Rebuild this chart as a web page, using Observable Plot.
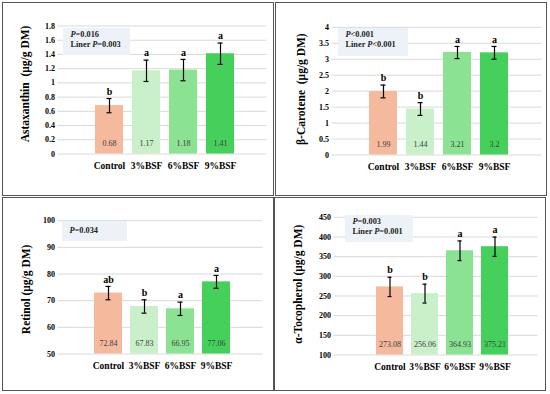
<!DOCTYPE html>
<html>
<head>
<meta charset="utf-8">
<script src="https://cdn.jsdelivr.net/npm/d3@7"></script>
<script src="https://cdn.jsdelivr.net/npm/@observablehq/plot@0.6"></script>
<style>
  html, body { margin: 0; padding: 0; background: #fff; }
  body { width: 550px; height: 394px; position: relative; overflow: hidden; font-family: "Liberation Serif", "Times New Roman", serif; }
  .panel { position: absolute; box-sizing: border-box; width: 272px; height: 194px; border: 1.5px solid #555; background: #fff; }
  .panel svg { position: absolute; left: 0; top: 0; }
  .pbox { position: absolute; background: #edf2f8; box-sizing: border-box; padding-left: 8px; font-size: 8.3px; font-weight: bold; color: #222; line-height: 10px; }
</style>
</head>
<body>
<script>
// ---- data ----
const categories = ["Control", "3%BSF", "6%BSF", "9%BSF"];

const astaxanthin = [0.68, 1.17, 1.18, 1.41];
const astaxanthinSE = [0.10, 0.15, 0.15, 0.15];
const astaxanthinLetters = ["b", "a", "a", "a"];
const astaxanthinTicks = [0, 0.2, 0.4, 0.6, 0.8, 1, 1.2, 1.4, 1.6, 1.8];

const carotene = [1.99, 1.44, 3.21, 3.2];
const caroteneSE = [0.20, 0.20, 0.19, 0.20];
const caroteneLetters = ["b", "b", "a", "a"];
const caroteneTicks = [0, 0.5, 1, 1.5, 2, 2.5, 3, 3.5, 4];

const retinol = [72.84, 67.83, 66.95, 77.06];
const retinolSE = [2.5, 2.5, 2.5, 2.4];
const retinolLetters = ["ab", "b", "a", "a"];
const retinolTicks = [50, 60, 70, 80, 90, 100];

const tocopherol = [273.08, 256.06, 364.93, 375.21];
const tocopherolSE = [24.5, 24, 25, 24.5];
const tocopherolLetters = ["b", "b", "a", "a"];
const tocopherolTicks = [100, 150, 200, 250, 300, 350, 400, 450];

const titles = ["Astaxanthin  (μg/g DM)", "β-Carotene  (μg/g DM)", "Retinol (μg/g DM)", "α-Tocopherol (μg/g DM)"];
const pTexts = [["P=0.016", "Liner P=0.003"], ["P<0.001", "Liner P<0.001"], ["P=0.034"], ["P=0.003", "Liner P=0.001"]];

// ---- styles / layout ----
const colors = ["#f5b99d", "#c9f0c9", "#8ce293", "#44d05b"];
const layouts = [
  {left: 2,   top: 2,   mL: 54.5, mR: 5.5, mT: 22.5, mB: 40.5, xr: [91.5, 231.5], titleX: 21.5, titleDy: -6, box: [59.5, 24.5, 67, 27], boxPad: 2},
  {left: 275, top: 2,   mL: 55.5, mR: 3.5, mT: 23.8, mB: 39.5, xr: [91.5, 233.5], titleX: 25,   titleDy: -2, box: [61.5, 24.5, 70, 28], boxPad: 2},
  {left: 2,   top: 197, mL: 54.5, mR: 9.5, mT: 22.2, mB: 35.5, xr: [89.5, 228.5], titleX: 23,   titleDy: 2,  box: [58.5, 23.2, 65, 20.3], boxPad: 5},
  {left: 274, top: 197, mL: 58.5, mR: 6.5, mT: 18.8, mB: 34.5, xr: [99.5, 233.5], titleX: 23,   titleDy: -2, box: [69.5, 16.5, 68, 27.7], boxPad: 2}
];

const series = [
  {values: astaxanthin, se: astaxanthinSE, letters: astaxanthinLetters, ticks: astaxanthinTicks},
  {values: carotene, se: caroteneSE, letters: caroteneLetters, ticks: caroteneTicks},
  {values: retinol, se: retinolSE, letters: retinolLetters, ticks: retinolTicks},
  {values: tocopherol, se: tocopherolSE, letters: tocopherolLetters, ticks: tocopherolTicks}
];

const W = 269, H = 191;

series.forEach((s, i) => {
  const L = layouts[i];
  const data = categories.map((c, j) => ({cat: c, value: s.values[j], se: s.se[j], letter: s.letters[j]}));
  const base = s.ticks[0];
  const top = s.ticks[s.ticks.length - 1];

  const chart = Plot.plot({
    width: W,
    height: H,
    marginLeft: L.mL,
    marginRight: L.mR,
    marginTop: L.mT,
    marginBottom: L.mB,
    style: {fontFamily: "'Liberation Serif', 'Times New Roman', serif", fontSize: "8px", color: "black", background: "transparent", overflow: "visible"},
    x: {domain: categories, range: L.xr, paddingInner: 0.23, paddingOuter: 0, label: null},
    y: {domain: [base, top], label: null},
    color: {domain: categories, range: colors},
    marks: [
      Plot.ruleY(s.ticks, {stroke: "#d9d9d9", strokeWidth: 1}),
      Plot.barY(data, {x: "cat", y1: () => base, y2: "value", fill: "cat"}),
      Plot.ruleX(data, {x: "cat", y1: d => d.value - d.se, y2: d => d.value + d.se, stroke: "black", strokeWidth: 1.2}),
      Plot.tickY(data, {x: "cat", y: d => d.value + d.se, stroke: "black", strokeWidth: 1.2, insetLeft: 11.5, insetRight: 11.5}),
      Plot.tickY(data, {x: "cat", y: d => d.value - d.se, stroke: "black", strokeWidth: 1.2, insetLeft: 11.5, insetRight: 11.5}),
      Plot.text(data, {x: "cat", y: d => d.value + d.se, text: "letter", dy: -7, fontWeight: "bold", fontSize: 10}),
      Plot.text(data, {x: "cat", frameAnchor: "bottom", text: d => String(d.value), dy: -8, fontSize: 8, fill: "#404040"}),
      Plot.axisY({ticks: s.ticks, tickSize: 0, tickPadding: 3, tickFormat: d => String(d), fontWeight: "bold", fontSize: 8, label: null}),
      Plot.axisX({tickSize: 0, tickPadding: 8, fontWeight: "bold", fontSize: 9.5, label: null}),
      Plot.text([titles[i]], {frameAnchor: "left", textAnchor: "middle", lineAnchor: "middle", text: d => d, rotate: -90, dx: L.titleX - L.mL, dy: L.titleDy, fontWeight: "bold", fontSize: 11.5, fill: "black"})
    ]
  });

  const panel = document.createElement("div");
  panel.className = "panel";
  panel.style.left = L.left + "px";
  panel.style.top = L.top + "px";
  panel.appendChild(chart);

  const box = document.createElement("div");
  box.className = "pbox";
  box.style.left = L.box[0] + "px";
  box.style.top = L.box[1] + "px";
  box.style.width = L.box[2] + "px";
  box.style.height = L.box[3] + "px";
  box.style.paddingTop = L.boxPad + "px";
  box.innerHTML = pTexts[i].map(t => t.replace(/P(?=[=<])/, "<i>P</i>")).join("<br>");
  panel.appendChild(box);

  document.body.appendChild(panel);
});
</script>
</body>
</html>
